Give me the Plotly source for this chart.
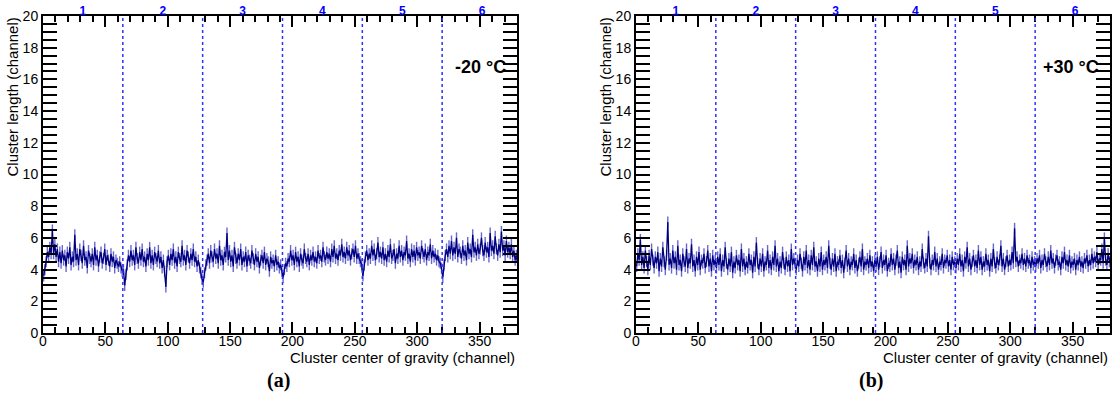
import numpy as np
import plotly.graph_objects as go

# cluster length vs center of gravity, 6 modules of 64 channels each
# panel (a): -20 C
a_mod1 = [3.6, 4.0, 4.5, 5.1, 4.8, 5.4, 5.0, 6.5,
          5.0, 5.6, 4.8, 5.3, 4.5, 5.1, 4.4, 5.2,
          4.6, 4.9, 4.2, 5.1, 4.7, 5.4, 4.3, 4.8,
          4.5, 6.2, 4.6, 5.0, 4.3, 5.3, 4.9, 4.4,
          5.5, 4.6, 4.8, 4.1, 5.2, 4.7, 4.5, 5.0,
          4.3, 5.4, 4.6, 4.9, 4.2, 4.8, 5.1, 4.4,
          4.7, 5.3, 4.3, 4.9, 4.6, 4.2, 5.0, 4.5,
          4.8, 4.1, 4.6, 4.4, 4.2, 4.5, 4.1, 3.9]
a_mod2 = [4.0, 3.0, 3.7, 4.3, 4.9, 4.5, 5.2, 4.6,
          4.9, 4.3, 5.4, 4.7, 4.4, 5.1, 4.6, 5.3,
          4.5, 4.8, 4.2, 5.0, 4.6, 5.4, 4.4, 4.9,
          4.3, 5.1, 4.7, 4.5, 5.2, 4.4, 4.8, 4.1,
          4.6, 3.9, 2.9, 4.5, 4.9, 4.3, 5.0, 4.6,
          5.3, 4.4, 4.8, 4.2, 5.1, 4.7, 4.5, 5.5,
          4.6, 4.9, 4.3, 5.2, 4.8, 4.4, 5.0, 4.6,
          5.3, 4.5, 4.8, 4.2, 4.6, 4.1, 3.8, 3.4]
a_mod3 = [3.2, 3.8, 4.3, 4.6, 5.0, 4.4, 5.2, 4.8,
          4.5, 5.3, 4.7, 5.0, 4.4, 5.5, 4.6, 4.9,
          4.3, 5.1, 4.8, 6.3, 4.6, 5.2, 4.5, 4.9,
          4.2, 5.4, 4.7, 4.4, 5.0, 4.6, 5.3, 4.3,
          4.8, 4.5, 5.1, 4.2, 4.9, 4.6, 4.4, 5.2,
          4.7, 4.3, 5.0, 4.5, 4.8, 4.1, 4.6, 4.9,
          4.4, 5.1, 4.3, 4.7, 4.5, 3.9, 4.8, 4.4,
          4.6, 4.2, 4.9, 4.3, 4.5, 4.1, 4.3, 3.9]
a_mod4 = [3.5, 4.0, 4.4, 4.2, 4.7, 4.5, 5.2, 4.6,
          4.9, 4.3, 5.1, 4.5, 4.8, 4.2, 5.0, 4.6,
          4.4, 5.3, 4.7, 4.5, 5.0, 4.3, 4.9, 4.6,
          5.1, 4.5, 4.8, 4.4, 5.2, 4.7, 4.9, 4.5,
          5.4, 4.8, 4.6, 5.1, 4.7, 5.0, 4.5, 5.3,
          4.8, 5.5, 4.7, 5.0, 4.6, 5.2, 4.9, 5.6,
          4.8, 5.1, 4.7, 5.4, 4.9, 5.2, 4.6, 5.0,
          5.3, 4.8, 5.5, 4.7, 5.0, 4.7, 4.5, 4.3]
a_mod5 = [3.6, 4.3, 4.8, 5.2, 4.6, 5.0, 4.7, 5.5,
          4.9, 5.3, 4.6, 5.0, 5.7, 4.8, 5.1, 4.7,
          5.4, 4.6, 5.0, 4.5, 5.2, 4.8, 5.6, 4.7,
          4.9, 5.3, 4.4, 5.0, 4.7, 5.5, 4.8, 5.2,
          4.6, 5.1, 4.9, 5.8, 4.7, 5.0, 4.5, 5.3,
          4.8, 5.2, 4.6, 5.4, 4.9, 5.1, 4.7, 5.5,
          5.0, 4.8, 5.3, 4.6, 5.1, 4.9, 5.6, 4.7,
          5.2, 4.8, 5.0, 4.6, 4.9, 4.5, 4.4, 4.1]
a_mod6 = [3.5, 4.3, 4.9, 5.3, 4.8, 5.5, 5.0, 5.8,
          4.9, 5.4, 5.0, 6.0, 4.8, 5.3, 5.1, 4.7,
          5.5, 4.9, 5.2, 4.6, 5.7, 5.0, 5.3, 4.8,
          6.2, 5.1, 5.4, 4.9, 5.6, 5.0, 5.3, 6.0,
          5.2, 4.9, 5.7, 5.1, 5.4, 4.8, 6.3, 5.2,
          5.5, 5.0, 6.1, 5.3, 4.9, 5.6, 5.1, 6.4,
          5.2, 5.5, 4.9, 5.8, 5.1, 5.4, 5.0, 5.6,
          4.8, 5.2, 4.6, 4.9, 4.5, 4.4, 4.6, 4.5]

# panel (b): +30 C
b_mod1 = [4.2, 5.0, 4.6, 5.9, 4.3, 4.8, 4.1, 5.2,
          4.5, 4.0, 4.9, 4.3, 5.3, 4.6, 4.1, 4.8,
          4.4, 5.1, 3.9, 4.7, 4.2, 5.4, 4.5, 4.0,
          4.9, 7.0, 4.3, 4.7, 4.1, 5.2, 4.4, 4.8,
          4.0, 5.5, 4.3, 4.6, 3.9, 5.0, 4.5, 4.2,
          5.3, 4.1, 4.7, 4.4, 5.6, 4.2, 4.6, 3.9,
          4.8, 4.3, 5.1, 4.0, 4.6, 4.4, 5.0, 4.1,
          4.5, 5.2, 4.2, 4.7, 3.9, 4.9, 4.3, 4.6]
b_mod2 = [4.1, 4.8, 4.3, 5.0, 3.9, 4.6, 4.2, 5.4,
          4.4, 4.0, 4.7, 4.2, 5.1, 3.8, 4.5, 4.1,
          4.9, 4.3, 4.6, 3.9, 5.3, 4.2, 4.7, 4.0,
          4.5, 4.1, 5.0, 4.3, 4.6, 3.8, 4.8, 4.2,
          5.7, 4.4, 4.0, 4.7, 4.2, 5.0, 3.9, 4.5,
          4.3, 5.2, 4.1, 4.6, 4.0, 4.8, 4.3, 5.5,
          4.2, 4.7, 3.9, 4.5, 4.1, 5.1, 4.4, 4.0,
          4.8, 4.2, 4.6, 3.9, 5.3, 4.3, 4.7, 4.4]
b_mod3 = [4.0, 4.6, 4.2, 5.0, 4.4, 3.9, 4.8, 4.3,
          5.2, 4.1, 4.6, 4.0, 4.9, 4.3, 5.4, 4.2,
          4.5, 3.9, 4.7, 4.2, 5.1, 4.0, 4.6, 4.3,
          4.8, 4.1, 5.5, 4.4, 4.0, 4.7, 4.2, 5.0,
          3.9, 4.5, 4.3, 4.9, 4.1, 4.6, 3.8, 4.4,
          5.2, 4.2, 4.7, 4.0, 4.5, 4.3, 5.0, 4.1,
          4.6, 3.9, 4.4, 4.8, 4.2, 5.3, 4.0, 4.5,
          4.3, 4.7, 4.1, 4.9, 4.2, 4.5, 3.9, 4.6]
b_mod4 = [4.2, 4.8, 4.0, 4.5, 5.1, 4.1, 4.6, 4.3,
          4.9, 3.9, 4.4, 4.2, 5.0, 4.3, 4.7, 4.0,
          4.6, 5.2, 4.1, 4.5, 3.8, 4.8, 4.3, 4.6,
          4.0, 5.5, 4.2, 4.7, 4.4, 5.0, 4.1, 4.6,
          4.3, 4.8, 4.0, 4.5, 4.2, 5.3, 4.4, 4.1,
          4.7, 4.2, 6.1, 4.4, 4.0, 4.6, 4.3, 5.1,
          4.2, 4.7, 4.0, 4.5, 4.3, 5.0, 4.1, 4.6,
          4.4, 4.9, 4.2, 4.6, 4.0, 4.8, 4.3, 4.5]
b_mod5 = [4.1, 4.7, 4.3, 5.0, 4.2, 4.6, 3.9, 4.8,
          4.4, 5.4, 4.2, 4.7, 4.0, 4.5, 4.9, 4.2,
          4.6, 4.1, 5.2, 4.3, 4.8, 4.0, 4.5, 4.2,
          5.0, 4.3, 4.6, 3.9, 4.7, 4.2, 5.3, 4.4,
          4.1, 4.8, 4.3, 4.6, 5.5, 4.2, 4.7, 4.0,
          4.5, 4.9, 4.2, 4.6, 4.3, 5.1, 4.4, 6.6,
          4.5, 4.8, 4.2, 4.6, 4.4, 5.0, 4.3, 4.7,
          4.2, 4.9, 4.4, 4.6, 4.1, 4.8, 4.3, 4.5]
b_mod6 = [4.2, 4.7, 4.4, 4.9, 4.1, 4.6, 4.3, 5.0,
          4.5, 4.2, 4.8, 4.3, 5.2, 4.4, 4.7, 4.1,
          4.6, 4.9, 4.3, 4.5, 4.0, 4.8, 4.4, 5.1,
          4.3, 4.6, 4.2, 4.9, 4.1, 4.5, 4.3, 4.7,
          4.0, 4.6, 4.3, 4.8, 4.2, 4.5, 4.1, 4.7,
          4.4, 4.9, 4.2, 4.6, 4.3, 5.0, 4.4, 4.8,
          4.5, 5.1, 4.3, 4.7, 4.6, 5.3, 4.4, 6.0,
          4.6, 4.3, 5.0, 4.5, 4.8, 4.4, 4.6, 4.5]

err_a = 0.35
err_b = 0.35
module_edges = [64, 128, 192, 256, 320]
module_centers = [32, 96, 160, 224, 288, 352]
module_names = ["1", "2", "3", "4", "5", "6"]
temps = ["-20&nbsp;\u00b0C", "+30&nbsp;\u00b0C"]
panel_tags = ["(a)", "(b)"]

ya = np.array(a_mod1 + a_mod2 + a_mod3 + a_mod4 + a_mod5 + a_mod6)
yb = np.array(b_mod1 + b_mod2 + b_mod3 + b_mod4 + b_mod5 + b_mod6)
xa = np.arange(len(ya)) + 0.5
xb = np.arange(len(yb)) + 0.5

W, H = 1118, 417
FONT = "Liberation Sans, Arial, sans-serif"
NAVY = "#00007f"

fig = go.Figure()
for i, (x, y, e) in enumerate([(xa, ya, err_a), (xb, yb, err_b)]):
    sfx = "" if i == 0 else "2"
    fig.add_trace(go.Scatter(
        x=x, y=y, mode="lines", xaxis="x" + sfx, yaxis="y" + sfx,
        line=dict(color=NAVY, width=1.3),
        error_y=dict(type="constant", value=e, color="rgba(40,40,190,0.7)",
                     thickness=1.4, width=0),
        showlegend=False, hoverinfo="skip"))

# screen pixel -> paper helpers
def px(v):
    return v / W

def py(v):
    return 1 - v / H

panels = [(43, 517), (636, 1110)]
top, bot = 16, 333

xcommon = dict(range=[0, 380], showline=True, linewidth=2, linecolor="black",
               mirror="allticks", ticks="inside", ticklen=11, tickwidth=2,
               tickcolor="black", dtick=50, tick0=0, showgrid=False, zeroline=False,
               automargin=False, ticklabelstandoff=-6,
               minor=dict(dtick=10, ticklen=6, tickwidth=2, ticks="inside", tickcolor="black"),
               tickfont=dict(family=FONT, size=14, color="black"))
ycommon = dict(range=[0, 20], showline=True, linewidth=2, linecolor="black",
               mirror="allticks", ticks="inside", ticklen=14, tickwidth=2,
               tickcolor="black", dtick=2, tick0=0, showgrid=False, zeroline=False,
               automargin=False, ticklabeloverflow="allow",
               minor=dict(dtick=0.5, ticklen=7, tickwidth=2, ticks="inside", tickcolor="black"),
               tickfont=dict(family=FONT, size=14, color="black"))

layout = dict(width=W, height=H, margin=dict(l=0, r=0, t=0, b=0, autoexpand=False),
              plot_bgcolor="white", paper_bgcolor="white", showlegend=False)
shapes = []
annotations = []
for i, (l, r) in enumerate(panels):
    sfx = "" if i == 0 else "2"
    xd = [px(l), px(r)]
    yd = [py(bot), py(top)]
    layout["xaxis" + sfx] = dict(xcommon, domain=xd, anchor="y" + sfx)
    layout["yaxis" + sfx] = dict(ycommon, domain=yd, anchor="x" + sfx)
    # top axis with module numbers
    layout["xaxis" + str(3 + i)] = dict(
        overlaying="x" + sfx, side="top", range=[0, 380], anchor="y" + sfx,
        tickvals=module_centers, ticktext=["<b>%s</b>" % m for m in module_names],
        ticks="", showline=False, showgrid=False, zeroline=False, automargin=False,
        ticklabelstandoff=-2, ticklabeloverflow="allow",
        tickfont=dict(family=FONT, size=12, color="#0000ff"))
    for edge in module_edges:
        shapes.append(dict(type="line", xref="x" + sfx, yref="y" + sfx + " domain",
                           x0=edge, x1=edge, y0=0, y1=1,
                           line=dict(color="#3030ff", width=1.5, dash="dot")))
    annotations.append(dict(x=px(r - 9), y=py(67), xref="paper", yref="paper",
                            text="<b>%s</b>" % temps[i], showarrow=False,
                            xanchor="right", yanchor="middle",
                            font=dict(family=FONT, size=18, color="black")))
    annotations.append(dict(x=px(r), y=py(357), xref="paper", yref="paper",
                            text="Cluster center of gravity (channel)", showarrow=False,
                            xanchor="right", yanchor="middle",
                            font=dict(family=FONT, size=15, color="black")))
    annotations.append(dict(x=px(l - 31), y=py(top), xref="paper", yref="paper",
                            text="Cluster length (channel)", showarrow=False,
                            textangle=-90, xanchor="center", yanchor="top",
                            font=dict(family=FONT, size=15, color="black")))
    annotations.append(dict(x=px((l + r) / 2 - 2), y=py(380), xref="paper", yref="paper",
                            text="<b>%s</b>" % panel_tags[i], showarrow=False,
                            xanchor="center", yanchor="middle",
                            font=dict(family="Liberation Serif, Times New Roman, serif",
                                      size=20, color="black")))
    # placeholder trace so the top axis is drawn
    fig.add_trace(go.Scatter(x=[None], y=[None], xaxis="x" + str(3 + i), yaxis="y" + sfx,
                             showlegend=False, hoverinfo="skip"))

layout["shapes"] = shapes
layout["annotations"] = annotations
fig.update_layout(**layout)
# drop the default 8px page margin so the figure sits at the window's corner
fig.write_html("out.html", config={"displayModeBar": False},
               post_script="document.body.style.margin='0';document.body.style.overflow='hidden';")
